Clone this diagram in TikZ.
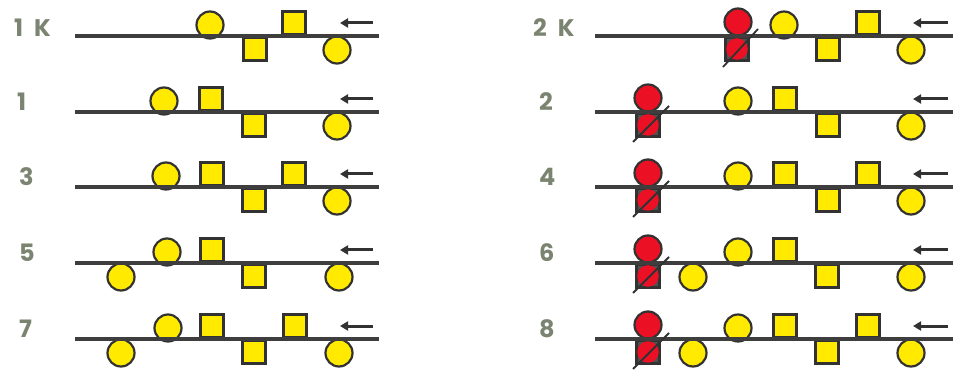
\documentclass[tikz,border=0pt]{standalone}
\usepackage{fontspec}
\setmainfont{Poppins}
\usetikzlibrary{calc,arrows.meta}
\definecolor{yel}{RGB}{255,234,0}
\definecolor{redf}{RGB}{236,16,36}
\definecolor{edge}{RGB}{50,50,50}
\definecolor{barc}{RGB}{62,62,62}
\definecolor{lab}{RGB}{122,132,112}
\begin{document}
\begin{tikzpicture}[x=1pt,y=-1pt,
  ycirc/.style={circle,draw=edge,fill=yel,line width=2.2pt,minimum size=27pt,inner sep=0pt},
  ysq/.style={rectangle,draw=edge,fill=yel,line width=2.2pt,minimum size=23pt,inner sep=0pt},
  rcirc/.style={circle,draw=edge,fill=redf,line width=2.2pt,minimum size=27pt,inner sep=0pt},
  rsq/.style={rectangle,draw=edge,fill=edge!85,line width=2.2pt,minimum size=23pt,inner sep=0pt},
  rin/.style={circle,fill=redf,minimum size=21.5pt,inner sep=0pt},
  bar/.style={draw=barc,line width=4.4pt},
  slash/.style={draw=edge,line width=1.8pt},
  arr/.style={draw=edge,line width=3pt,-{Triangle[length=8pt,width=9pt]}},
  lbl/.style={anchor=west,text=lab,font=\fontsize{24}{24}\selectfont\bfseries,inner sep=0pt}
]
\useasboundingbox (0,0) rectangle (953,371);

% ---------- left column ----------
% row 1K, L=36
\node[lbl] (l1k) at (14,28) {1\kern 11pt K};
\node[ycirc] (a1) at (210,25) {};
\node[ysq] (a2) at (255,49) {};
\node[ysq] (a3) at (294,23) {};
\node[ycirc] (a4) at (337,50) {};
\coordinate (a0s) at (75,36); \coordinate (a0e) at (379,36);
\draw[bar] (a0s) -- (a0e);
\coordinate (aas) at (373,23); \coordinate (aae) at (340,23);
\draw[arr] (aas) -- (aae);

% row 1, L=112
\node[lbl] (l1) at (17,102) {1};
\node[ycirc] (b1) at (164,101) {};
\node[ysq] (b2) at (211,99) {};
\node[ysq] (b3) at (254,125) {};
\node[ycirc] (b4) at (337,126) {};
\coordinate (b0s) at (75,112); \coordinate (b0e) at (379,112);
\draw[bar] (b0s) -- (b0e);
\coordinate (bas) at (373,99); \coordinate (bae) at (340,99);
\draw[arr] (bas) -- (bae);

% row 3, L=187
\node[lbl] (l3) at (19,177) {3};
\node[ycirc] (c1) at (166,176) {};
\node[ysq] (c2) at (212,174) {};
\node[ysq] (c3) at (254,200) {};
\node[ysq] (c4) at (294,174) {};
\node[ycirc] (c5) at (337,201) {};
\coordinate (c0s) at (75,187); \coordinate (c0e) at (379,187);
\draw[bar] (c0s) -- (c0e);
\coordinate (cas) at (373,174); \coordinate (cae) at (340,174);
\draw[arr] (cas) -- (cae);

% row 5, L=263
\node[lbl] (l5) at (19,253) {5};
\node[ycirc] (d1) at (121,277) {};
\node[ycirc] (d2) at (167,252) {};
\node[ysq] (d3) at (212,250) {};
\node[ysq] (d4) at (254,276) {};
\node[ycirc] (d5) at (339,277) {};
\coordinate (d0s) at (75,263); \coordinate (d0e) at (379,263);
\draw[bar] (d0s) -- (d0e);
\coordinate (das) at (373,250); \coordinate (dae) at (340,250);
\draw[arr] (das) -- (dae);

% row 7, L=339
\node[lbl] (l7) at (19,329) {7};
\node[ycirc] (e1) at (121,353) {};
\node[ycirc] (e2) at (168,328) {};
\node[ysq] (e3) at (212,326) {};
\node[ysq] (e4) at (254,352) {};
\node[ysq] (e5) at (295,326) {};
\node[ycirc] (e6) at (339,353) {};
\coordinate (e0s) at (75,339); \coordinate (e0e) at (379,339);
\draw[bar] (e0s) -- (e0e);
\coordinate (eas) at (373,326); \coordinate (eae) at (340,326);
\draw[arr] (eas) -- (eae);

% ---------- right column ----------
% row 2K, L=36
\node[lbl] (r2k) at (533,28) {2\kern 11pt K};
\node[rcirc] (f0t) at (738,22) {};
\node[rsq] (f0b) at (737,49) {};
\node[rin] (f0i) at (737,49) {};
\node[ycirc] (f1) at (784,25) {};
\node[ysq] (f2) at (828,49) {};
\node[ysq] (f3) at (868,23) {};
\node[ycirc] (f4) at (911,50) {};
\coordinate (f0s) at (595,36); \coordinate (f0e) at (953,36);
\draw[bar] (f0s) -- (f0e);
\coordinate (fsa) at (723,67); \coordinate (fsb) at (758,29);
\draw[slash] (fsa) -- (fsb);
\coordinate (fas) at (948,23); \coordinate (fae) at (913,23);
\draw[arr] (fas) -- (fae);

% row 2, L=112
\node[lbl] (r2) at (539,102) {2};
\node[rcirc] (g0t) at (648,98) {};
\node[rsq] (g0b) at (648,125) {};
\node[rin] (g0i) at (648,125) {};
\node[ycirc] (g1) at (738,101) {};
\node[ysq] (g2) at (785,99) {};
\node[ysq] (g3) at (828,125) {};
\node[ycirc] (g4) at (911,126) {};
\coordinate (g0s) at (595,112); \coordinate (g0e) at (953,112);
\draw[bar] (g0s) -- (g0e);
\coordinate (gsa) at (633,142); \coordinate (gsb) at (669,106);
\draw[slash] (gsa) -- (gsb);
\coordinate (gas) at (948,99); \coordinate (gae) at (913,99);
\draw[arr] (gas) -- (gae);

% row 4, L=187
\node[lbl] (r4) at (539,177) {4};
\node[rcirc] (h0t) at (648,173) {};
\node[rsq] (h0b) at (648,200) {};
\node[rin] (h0i) at (648,200) {};
\node[ycirc] (h1) at (738,176) {};
\node[ysq] (h2) at (785,174) {};
\node[ysq] (h3) at (828,200) {};
\node[ysq] (h4) at (868,174) {};
\node[ycirc] (h5) at (911,201) {};
\coordinate (h0s) at (595,187); \coordinate (h0e) at (953,187);
\draw[bar] (h0s) -- (h0e);
\coordinate (hsa) at (633,217); \coordinate (hsb) at (669,181);
\draw[slash] (hsa) -- (hsb);
\coordinate (has) at (948,174); \coordinate (hae) at (913,174);
\draw[arr] (has) -- (hae);

% row 6, L=263
\node[lbl] (r6) at (539,253) {6};
\node[rcirc] (i0t) at (648,249) {};
\node[rsq] (i0b) at (648,276) {};
\node[rin] (i0i) at (648,276) {};
\node[ycirc] (i1) at (693,277) {};
\node[ycirc] (i2) at (738,252) {};
\node[ysq] (i3) at (785,250) {};
\node[ysq] (i4) at (827,276) {};
\node[ycirc] (i5) at (911,277) {};
\coordinate (i0s) at (595,263); \coordinate (i0e) at (953,263);
\draw[bar] (i0s) -- (i0e);
\coordinate (isa) at (633,293); \coordinate (isb) at (669,257);
\draw[slash] (isa) -- (isb);
\coordinate (ias) at (948,250); \coordinate (iae) at (913,250);
\draw[arr] (ias) -- (iae);

% row 8, L=339
\node[lbl] (r8) at (539,329) {8};
\node[rcirc] (j0t) at (648,325) {};
\node[rsq] (j0b) at (648,352) {};
\node[rin] (j0i) at (648,352) {};
\node[ycirc] (j1) at (693,353) {};
\node[ycirc] (j2) at (738,328) {};
\node[ysq] (j3) at (785,326) {};
\node[ysq] (j4) at (827,352) {};
\node[ysq] (j5) at (868,326) {};
\node[ycirc] (j6) at (911,353) {};
\coordinate (j0s) at (595,339); \coordinate (j0e) at (953,339);
\draw[bar] (j0s) -- (j0e);
\coordinate (jsa) at (633,369); \coordinate (jsb) at (669,333);
\draw[slash] (jsa) -- (jsb);
\coordinate (jas) at (948,326); \coordinate (jae) at (913,326);
\draw[arr] (jas) -- (jae);
\end{tikzpicture}
\end{document}
